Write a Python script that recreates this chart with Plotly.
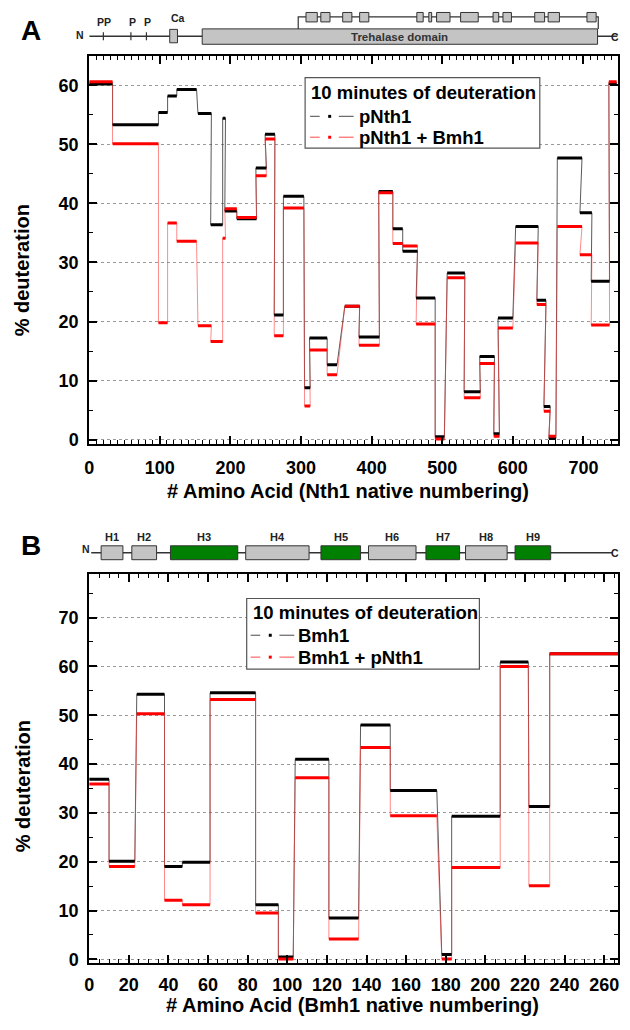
import plotly.graph_objects as go

# page offset: plotly div sits inside body with an 8px margin on every side
OFF = 8
W, H = 630 - 2 * OFF, 1030 - 2 * OFF

# ---------------- Panel A data (Nth1 peptides) ----------------
a_start = [0, 33, 98, 111, 124, 154, 172, 189, 192, 209, 236, 249, 262, 275, 305, 312, 337, 362, 382, 410,
           430, 444, 463, 490, 507, 531, 553, 573, 579, 604, 634, 644, 651, 663, 695, 711, 736]
a_end = [33, 98, 111, 124, 152, 173, 189, 193, 209, 237, 251, 263, 275, 304, 313, 337, 351, 383, 411, 430,
         444, 465, 490, 503, 532, 554, 574, 581, 600, 636, 647, 653, 661, 698, 712, 737, 747]
a_pnth1 = [60.2, 53.3, 55.4, 58.2, 59.3, 55.2, 36.4, 54.4, 38.7, 37.4, 46.0, 51.7, 21.1, 41.2, 8.8, 17.2, 12.7,
           22.6, 17.4, 42.0, 35.7, 31.9, 24.0, 0.5, 28.2, 8.1, 14.1, 1.0, 20.6, 36.1, 23.6, 5.6, 0.2, 47.7,
           38.4, 26.8, 60.3]
a_pnth1_bmh1 = [60.6, 50.1, 19.8, 36.7, 33.6, 19.3, 16.6, 34.1, 39.1, 37.6, 44.7, 50.9, 17.6, 39.2, 5.7, 15.2,
                11.0, 22.6, 16.0, 41.8, 33.2, 32.8, 19.6, 0.1, 27.4, 7.1, 12.9, 0.6, 18.9, 33.3, 22.9, 4.8, 0.6,
                36.1, 31.3, 19.4, 60.6]

# ---------------- Panel B data (Bmh1 peptides) ----------------
b_start = [0, 10, 24, 38, 47, 61, 84, 95.5, 104, 121, 137, 152, 178, 183, 207.5, 222, 232.5]
b_end = [10, 23, 38, 47, 61, 84, 95.5, 103, 121, 136, 152, 175.5, 183, 207.5, 221.7, 232.5, 267]
b_bmh1 = [36.9, 20.1, 54.3, 19.0, 19.9, 54.6, 11.2, 0.5, 41.0, 8.5, 48.0, 34.6, 1.0, 29.3, 60.9, 31.3, 62.6]
b_bmh1_pnth1 = [35.9, 19.0, 50.3, 12.1, 11.2, 53.2, 9.5, 0.1, 37.2, 4.2, 43.4, 29.4, 0.1, 18.8, 60.0, 15.1, 62.6]

a_xticks = [0, 100, 200, 300, 400, 500, 600, 700]
b_xticks = [0, 20, 40, 60, 80, 100, 120, 140, 160, 180, 200, 220, 240, 260]

# ---------------- Domain diagrams (residue numbering) ----------------
nth1_length = 748
nth1_psites = [20, 59, 81]
nth1_psite_labels = ["PP", "P", "P"]
nth1_ca = [114, 125]
nth1_treh = [160, 720]
nth1_upper_span = [296, 721]
nth1_sub_start = [307, 328, 359, 383, 464, 481, 492, 526, 572, 586, 631, 650, 705]
nth1_sub_end = [323, 341, 372, 396, 473, 485, 511, 551, 580, 598, 645, 666, 718]

bmh1_line = [1, 264]
bmh1_h_names = ["H1", "H2", "H3", "H4", "H5", "H6", "H7", "H8", "H9"]
bmh1_h_start = [6, 21.5, 41, 79, 117, 141, 170, 190, 215]
bmh1_h_end = [17, 34, 75, 111, 137, 165, 187, 211, 233]
bmh1_h_green = [False, False, True, False, True, False, True, False, True]


def px(x):
    return (x - OFF) / W


def py(y):
    return 1 - (y - OFF) / H


FONT = "Liberation Sans"


def seg_traces(starts, ends, vals, xa, ya, thick_color, thin_color):
    cx, cy, tx, ty = [], [], [], []
    for s, e, v in zip(starts, ends, vals):
        cx += [s, e]
        cy += [v, v]
        tx += [s, e, None]
        ty += [v, v, None]
    thin = go.Scatter(x=cx, y=cy, mode="lines", xaxis=xa, yaxis=ya,
                      line=dict(color=thin_color, width=1), showlegend=False, hoverinfo="skip")
    thick = go.Scatter(x=tx, y=ty, mode="lines", xaxis=xa, yaxis=ya,
                       line=dict(color=thick_color, width=3), showlegend=False, hoverinfo="skip")
    return thin, thick


fig = go.Figure()

BLACK_THIN = "rgba(60,60,60,0.85)"
RED_THIN = "rgba(255,60,60,0.6)"

ta_b = seg_traces(a_start, a_end, a_pnth1, "x", "y", "#000000", BLACK_THIN)
ta_r = seg_traces(a_start, a_end, a_pnth1_bmh1, "x", "y", "#ff0000", RED_THIN)
tb_b = seg_traces(b_start, b_end, b_bmh1, "x2", "y2", "#000000", BLACK_THIN)
tb_r = seg_traces(b_start, b_end, b_bmh1_pnth1, "x2", "y2", "#ff0000", RED_THIN)
for t in [ta_b[0], ta_r[0], ta_b[1], ta_r[1], tb_b[0], tb_r[0], tb_b[1], tb_r[1]]:
    fig.add_trace(t)

# invisible traces to host diagram subplots
fig.add_trace(go.Scatter(x=[0], y=[30], xaxis="x3", yaxis="y3", mode="markers",
                         marker=dict(opacity=0), showlegend=False, hoverinfo="skip"))
fig.add_trace(go.Scatter(x=[0], y=[550], xaxis="x4", yaxis="y4", mode="markers",
                         marker=dict(opacity=0), showlegend=False, hoverinfo="skip"))

tickfont = dict(family=FONT, size=18, color="black", weight="bold")
titlefont = dict(family=FONT, size=20, color="black", weight="bold")


def xax(domain, rng, ticks, minor_dtick, anchor, standoff):
    return dict(domain=domain, range=rng, anchor=anchor, tickvals=ticks,
                showline=True, linecolor="black", linewidth=2, mirror="allticks",
                ticks="inside", ticklen=8, tickwidth=1.5, tickcolor="black", ticklabelstandoff=standoff,
                minor=dict(ticks="inside", ticklen=4, tickwidth=1, tickcolor="black", dtick=minor_dtick, tick0=0),
                tickfont=tickfont, showgrid=False, zeroline=False)


def yax(domain, rng, dtick, anchor):
    return dict(domain=domain, range=rng, anchor=anchor, dtick=dtick, tick0=0,
                showline=True, linecolor="black", linewidth=2, mirror="allticks",
                ticks="inside", ticklen=8, tickwidth=1.5, tickcolor="black", ticklabelstandoff=5,
                minor=dict(ticks="inside", ticklen=4, tickwidth=1, tickcolor="black", dtick=dtick / 2, tick0=0),
                tickfont=tickfont, showgrid=True, gridcolor="#9a9a9a", griddash="dot", gridwidth=1,
                zeroline=False)


xdom = [px(85), px(619)]
fig.update_layout(
    width=W, height=H, autosize=False,
    margin=dict(l=0, r=0, t=0, b=0),
    paper_bgcolor="white", plot_bgcolor="white",
    showlegend=False,
    xaxis=xax(xdom, [0, 749], a_xticks, 10, "y", 6),
    yaxis=yax([py(447), py(56)], [-0.8, 65], 10, "x"),
    xaxis2=xax(xdom, [0, 267], b_xticks, 5, "y2", 4),
    yaxis2=yax([py(969), py(577)], [-0.8, 79], 10, "x2"),
    xaxis3=dict(domain=xdom, range=[0, 749], anchor="y3", visible=False),
    yaxis3=dict(domain=[py(50), py(8)], range=[50, 8], anchor="x3", visible=False),
    xaxis4=dict(domain=xdom, range=[0, 267], anchor="y4", visible=False),
    yaxis4=dict(domain=[py(572), py(528)], range=[572, 528], anchor="x4", visible=False),
)

shapes = []
ann = []
DARK = "#333333"
GREY = "#c4c4c4"
GREEN = "#008000"

# ---- axis titles ----
ann.append(dict(xref="paper", yref="paper", x=px(346), y=py(494), text="# Amino Acid (Nth1 native numbering)",
                showarrow=False, font=titlefont, xanchor="center", yanchor="middle"))
ann.append(dict(xref="paper", yref="paper", x=px(351), y=py(1011), text="# Amino Acid (Bmh1 native numbering)",
                showarrow=False, font=titlefont, xanchor="center", yanchor="middle"))
ann.append(dict(xref="paper", yref="paper", x=px(18), y=py(272), text="% deuteration", textangle=-90,
                showarrow=False, font=titlefont, xanchor="center", yanchor="middle"))
ann.append(dict(xref="paper", yref="paper", x=px(18), y=py(791), text="% deuteration", textangle=-90,
                showarrow=False, font=titlefont, xanchor="center", yanchor="middle"))

# ---- Nth1 diagram ----
shapes.append(dict(type="line", xref="x3", yref="y3", x0=0, x1=nth1_length, y0=36.5, y1=36.5,
                   line=dict(color=DARK, width=1.5)))
for p in nth1_psites:
    shapes.append(dict(type="line", xref="x3", yref="y3", x0=p, x1=p, y0=32.5, y1=40.5,
                       line=dict(color=DARK, width=1.2)))
shapes.append(dict(type="path", xref="x3", yref="y3",
                   path=f"M {nth1_upper_span[0]},29 L {nth1_upper_span[0]},17 L {nth1_upper_span[1]},17 L {nth1_upper_span[1]},29",
                   line=dict(color=DARK, width=1.2)))
shapes.append(dict(type="rect", xref="x3", yref="y3", x0=nth1_ca[0], x1=nth1_ca[1], y0=29.5, y1=43,
                   fillcolor=GREY, line=dict(color=DARK, width=1)))
shapes.append(dict(type="rect", xref="x3", yref="y3", x0=nth1_treh[0], x1=nth1_treh[1], y0=29, y1=44.5,
                   fillcolor=GREY, line=dict(color=DARK, width=1)))
for s, e in zip(nth1_sub_start, nth1_sub_end):
    shapes.append(dict(type="rect", xref="x3", yref="y3", x0=s, x1=e, y0=12.5, y1=22,
                       fillcolor=GREY, line=dict(color=DARK, width=1)))
lab = dict(family=FONT, size=10.5, color="#222222", weight="bold")
labH = dict(family=FONT, size=11, color="#222222", weight="bold")
for p, t in zip(nth1_psites, nth1_psite_labels):
    ann.append(dict(xref="x3", yref="y3", x=p + (1 if t == "PP" else 2), y=22, text=t, showarrow=False,
                    font=lab, xanchor="center", yanchor="middle"))
ann.append(dict(xref="x3", yref="y3", x=sum(nth1_ca) / 2 + 6, y=18, text="Ca", showarrow=False, font=lab,
                xanchor="center", yanchor="middle"))
ann.append(dict(xref="x3", yref="y3", x=sum(nth1_treh) / 2, y=37.5, text="Trehalase domain", showarrow=False,
                font=dict(family=FONT, size=11.5, color="#333333", weight="bold"),
                xanchor="center", yanchor="middle"))
ann.append(dict(xref="paper", yref="paper", x=px(76), y=py(35), text="N", showarrow=False, font=lab,
                xanchor="center", yanchor="middle"))
ann.append(dict(xref="paper", yref="paper", x=1, y=py(37), text="C", showarrow=False, font=lab,
                xanchor="right", yanchor="middle"))

# ---- Bmh1 diagram ----
shapes.append(dict(type="line", xref="x4", yref="y4", x0=bmh1_line[0], x1=bmh1_line[1], y0=556, y1=556,
                   line=dict(color=DARK, width=1.5)))
for s, e, g, n in zip(bmh1_h_start, bmh1_h_end, bmh1_h_green, bmh1_h_names):
    shapes.append(dict(type="rect", xref="x4", yref="y4", x0=s, x1=e, y0=549, y1=563,
                       fillcolor=GREEN if g else GREY, line=dict(color=DARK, width=1)))
    ann.append(dict(xref="x4", yref="y4", x=(s + e) / 2, y=540, text=n, showarrow=False, font=labH,
                    xanchor="center", yanchor="middle"))
ann.append(dict(xref="paper", yref="paper", x=px(82), y=py(552), text="N", showarrow=False, font=lab,
                xanchor="center", yanchor="middle"))
ann.append(dict(xref="paper", yref="paper", x=1, y=py(556), text="C", showarrow=False, font=lab,
                xanchor="right", yanchor="middle"))

# ---- Panel letters ----
big = dict(family=FONT, size=28, color="black", weight="bold")
ann.append(dict(xref="paper", yref="paper", x=px(26), y=py(31), text="A", showarrow=False, font=big,
                xanchor="center", yanchor="middle"))
ann.append(dict(xref="paper", yref="paper", x=px(26), y=py(549), text="B", showarrow=False, font=big,
                xanchor="center", yanchor="middle"))

# ---- Manual legends ----
legf = dict(family=FONT, size=18.5, color="black", weight="bold")


def legend(box, title_y, rows, sample_x, text_x, labels):
    x0, x1, y0, y1 = box
    shapes.append(dict(type="rect", xref="paper", yref="paper", x0=px(x0), x1=px(x1), y0=py(y1), y1=py(y0),
                       fillcolor="white", line=dict(color="#555555", width=1.2)))
    ann.append(dict(xref="paper", yref="paper", x=px(x0 + 4), y=py(title_y), xanchor="left", yanchor="middle",
                    text="10 minutes of deuteration", showarrow=False, font=legf))
    for ry, (lbl, col, dcol) in zip(rows, labels):
        sx0, sx1 = sample_x
        ln = (sx1 - sx0)
        shapes.append(dict(type="line", xref="paper", yref="paper", x0=px(sx0), x1=px(sx0 + ln * 0.22),
                           y0=py(ry), y1=py(ry), line=dict(color=col, width=1.2)))
        shapes.append(dict(type="line", xref="paper", yref="paper", x0=px(sx0 + ln * 0.66), x1=px(sx1),
                           y0=py(ry), y1=py(ry), line=dict(color=col, width=1.2)))
        shapes.append(dict(type="rect", xref="paper", yref="paper", x0=px(sx0 + ln * 0.45 - 1.5),
                           x1=px(sx0 + ln * 0.45 + 1.5), y0=py(ry + 1.5), y1=py(ry - 1.5),
                           fillcolor=dcol, line=dict(width=0)))
        ann.append(dict(xref="paper", yref="paper", x=px(text_x), y=py(ry), xanchor="left", yanchor="middle",
                        text=lbl, showarrow=False, font=legf))


legend((303, 540, 78, 149), 93, [117, 138], (308, 352), 355,
       [("pNth1", "#666666", "#000000"), ("pNth1 + Bmh1", "#ff6666", "#ff0000")])
legend((244, 479, 602, 673), 616, [639, 661], (248, 292), 294,
       [("Bmh1", "#666666", "#000000"), ("Bmh1 + pNth1", "#ff6666", "#ff0000")])

fig.update_layout(shapes=shapes, annotations=ann)
fig.write_html("out.html")
